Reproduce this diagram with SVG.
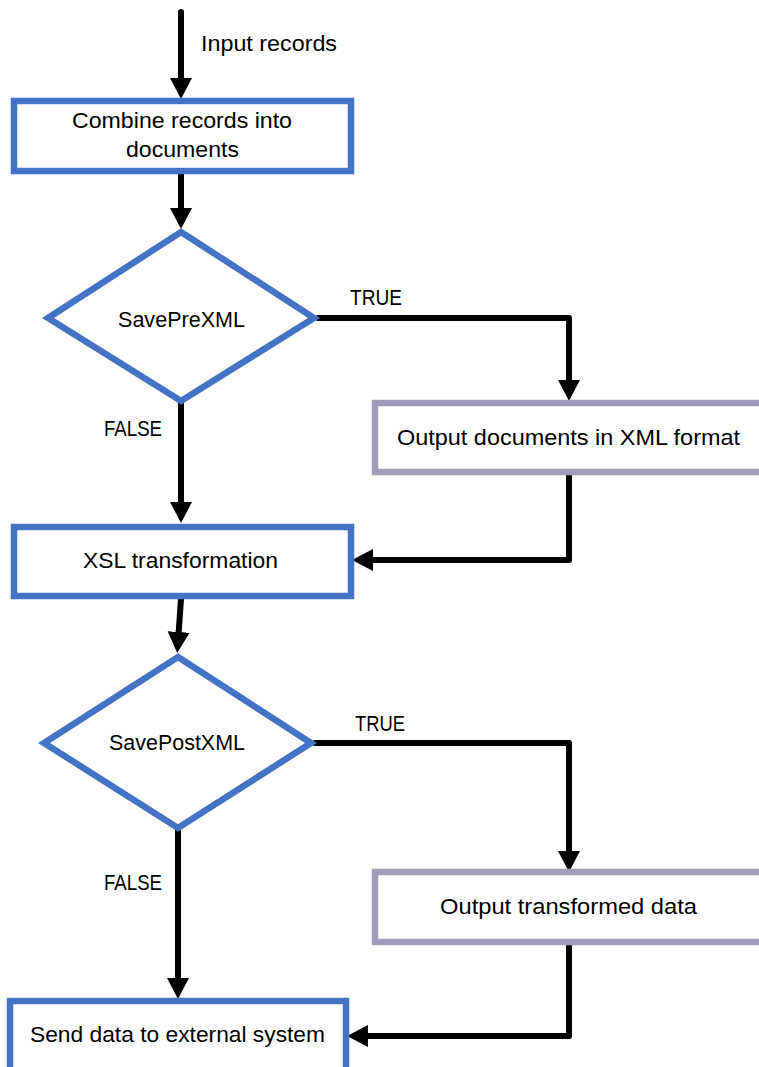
<svg xmlns="http://www.w3.org/2000/svg" width="759" height="1067" viewBox="0 0 759 1067">
<style>
.box{fill:#fff;stroke:#4472C4;stroke-width:6.5}
.box2{fill:#fff;stroke:#A09BBB;stroke-width:6.5}
.dia{fill:#fff;stroke:#4472C4;stroke-width:6.5;stroke-linejoin:miter}
.t{font-family:"Liberation Sans",Arial,sans-serif;font-size:22px;fill:#000}
.c{fill:none;stroke:#000;stroke-width:6;stroke-linecap:round;stroke-linejoin:round}
</style>
<defs>
<marker id="ah" markerUnits="userSpaceOnUse" markerWidth="24" markerHeight="24" refX="1" refY="11" orient="auto" viewBox="0 0 24 22">
<path d="M0,0 L21,11 L0,22 z" fill="#000"/>
</marker>
</defs>
<g id="connectors">
<path class="c" d="M181,12 V79" marker-end="url(#ah)"/>
<path class="c" d="M181,174 V209" marker-end="url(#ah)"/>
<path class="c" d="M318,318 H569 V381" marker-end="url(#ah)"/>
<path class="c" d="M181,403 V503" marker-end="url(#ah)"/>
<path class="c" d="M569,475 V560 H372" marker-end="url(#ah)"/>
<path class="c" d="M181,599 L178.6,633" marker-end="url(#ah)"/>
<path class="c" d="M315,743 H569 V852" marker-end="url(#ah)"/>
<path class="c" d="M178,830 V979" marker-end="url(#ah)"/>
<path class="c" d="M569,945 V1036 H367" marker-end="url(#ah)"/>
<text class="t" x="201" y="51" textLength="136" lengthAdjust="spacingAndGlyphs">Input records</text>
<text class="t" x="350" y="305" textLength="52" lengthAdjust="spacingAndGlyphs">TRUE</text>
<text class="t" x="104" y="436" textLength="58" lengthAdjust="spacingAndGlyphs">FALSE</text>
<text class="t" x="355" y="731" textLength="50" lengthAdjust="spacingAndGlyphs">TRUE</text>
<text class="t" x="104" y="890" textLength="58" lengthAdjust="spacingAndGlyphs">FALSE</text>
</g>
<g id="combine">
<rect class="box" x="14" y="101" width="337" height="70"/>
<text class="t" x="72" y="128" textLength="220" lengthAdjust="spacingAndGlyphs">Combine records into</text>
<text class="t" x="126" y="157" textLength="113" lengthAdjust="spacingAndGlyphs">documents</text>
</g>
<g id="savePreXML">
<polygon class="dia" points="181,232 314,318 181,401 48,318"/>
<text class="t" x="118" y="327" textLength="127" lengthAdjust="spacingAndGlyphs">SavePreXML</text>
</g>
<g id="outputXML">
<rect class="box2" x="375" y="403" width="400" height="69"/>
<text class="t" x="397" y="445" textLength="343" lengthAdjust="spacingAndGlyphs">Output documents in XML format</text>
</g>
<g id="xsl">
<rect class="box" x="14" y="527" width="337" height="69"/>
<text class="t" x="83" y="568" textLength="195" lengthAdjust="spacingAndGlyphs">XSL transformation</text>
</g>
<g id="savePostXML">
<polygon class="dia" points="178,657 311,743 178,828 44,743"/>
<text class="t" x="109" y="750" textLength="136" lengthAdjust="spacingAndGlyphs">SavePostXML</text>
</g>
<g id="outputTransformed">
<rect class="box2" x="375" y="872" width="400" height="70"/>
<text class="t" x="440" y="914" textLength="257" lengthAdjust="spacingAndGlyphs">Output transformed data</text>
</g>
<g id="send">
<rect class="box" x="10" y="1001" width="336" height="100"/>
<text class="t" x="30" y="1042" textLength="295" lengthAdjust="spacingAndGlyphs">Send data to external system</text>
</g>
</svg>
